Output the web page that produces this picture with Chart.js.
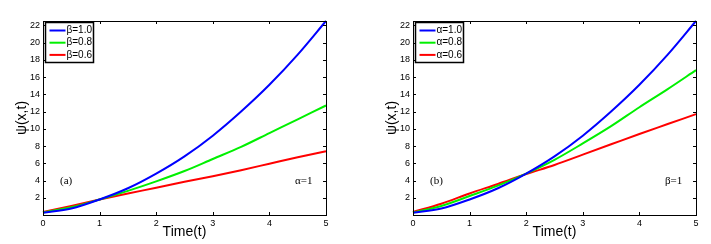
<!DOCTYPE html>
<html>
<head>
<meta charset="utf-8">
<script src="https://cdn.jsdelivr.net/npm/chart.js@4.4.1/dist/chart.umd.min.js"></script>
<style>
body{margin:0;background:#fff;width:711px;height:244px;overflow:hidden;position:relative}
.box{position:absolute;top:0;height:244px}
#boxA{left:0;width:355px}
#boxB{left:370px;width:341px}
</style>
</head>
<body>
<div class=box id=boxA><canvas id=chartA></canvas></div>
<div class=box id=boxB><canvas id=chartB></canvas></div>
<script>
"use strict"

// values, t = 0 .. 5 step 0.5
var times = [0, 0.5, 1, 1.5, 2, 2.5, 3, 3.5, 4, 4.5, 5]
// panel (a), alpha = 1
var beta10 = [0.25, 0.75, 1.8, 3.1, 4.8, 6.8, 9.2, 12.0, 15.1, 18.6, 22.5]
var beta08 = [0.3, 0.9, 1.8, 2.8, 3.9, 5.1, 6.5, 7.9, 9.5, 11.1, 12.7]
var beta06 = [0.35, 1.05, 1.8, 2.5, 3.15, 3.85, 4.5, 5.2, 5.95, 6.7, 7.4]
// panel (b), beta = 1
var alpha10 = [0.25, 0.75, 1.8, 3.1, 4.8, 6.8, 9.2, 12.0, 15.1, 18.6, 22.5]
var alpha08 = [0.3, 1.05, 2.2, 3.4, 4.8, 6.4, 8.3, 10.3, 12.5, 14.6, 16.8]
var alpha06 = [0.35, 1.3, 2.5, 3.6, 4.75, 5.8, 7.0, 8.2, 9.4, 10.55, 11.7]

var xTicks = [0, 1, 2, 3, 4, 5]
var yTicks = [2, 4, 6, 8, 10, 12, 14, 16, 18, 20, 22]
var colors = ['#0000ff', '#00f000', '#ff0000']

function points(values){
	return values.map(function(v, i){ return {x: times[i], y: v} })
}

// matlab style box: frame, inward ticks on all sides, boxed legend, notes
var matlabFrame = {
	id: 'matlabFrame',
	afterDraw: function(chart, args, opts){
		var ctx = chart.ctx, a = chart.chartArea,
		xs = chart.scales.x, ys = chart.scales.y
		ctx.save()
		ctx.strokeStyle = '#000'
		ctx.lineWidth = 1
		ctx.strokeRect(Math.round(a.left)+0.5, Math.round(a.top)+0.5, Math.round(a.right-a.left), Math.round(a.bottom-a.top))
		ctx.beginPath()
		xTicks.forEach(function(v){
			var px = Math.round(xs.getPixelForValue(v))+0.5
			ctx.moveTo(px, a.bottom); ctx.lineTo(px, a.bottom-3)
			ctx.moveTo(px, a.top); ctx.lineTo(px, a.top+3)
		})
		yTicks.forEach(function(v){
			var py = Math.round(ys.getPixelForValue(v))+0.5
			ctx.moveTo(a.left, py); ctx.lineTo(a.left+3, py)
			ctx.moveTo(a.right, py); ctx.lineTo(a.right-3, py)
		})
		ctx.stroke()

		// legend
		var lx = Math.round(a.left)+2.5, ly = Math.round(a.top)+1.5
		ctx.fillStyle = '#fff'
		ctx.fillRect(lx, ly, 48, 40)
		ctx.lineWidth = 1.5
		ctx.strokeRect(lx, ly, 48, 40)
		ctx.font = '10px "Liberation Sans", Arial, sans-serif'
		ctx.textBaseline = 'middle'
		chart.data.datasets.forEach(function(ds, i){
			var y = a.top + 9.5 + i*12.2
			ctx.strokeStyle = ds.borderColor
			ctx.lineWidth = 2
			ctx.beginPath()
			ctx.moveTo(lx+4, y); ctx.lineTo(lx+20, y)
			ctx.stroke()
			ctx.fillStyle = '#000'
			ctx.fillText(ds.label, lx+21, y)
		})

		ctx.font = '11px "Liberation Serif", "Times New Roman", serif'
		ctx.fillStyle = '#000'
		ctx.textBaseline = 'middle'
		ctx.fillText(opts.tag, a.left+17, 181)
		ctx.fillText(opts.note, a.right-31, 181)
		ctx.restore()
	}
}

function makeChart(id, labels, series, tag, note, padRight){
	return new Chart(document.getElementById(id), {
		type: 'line',
		data: {
			datasets: series.map(function(s, i){
				return {
					label: labels[i],
					data: points(s),
					borderColor: colors[i],
					borderWidth: 2,
					pointRadius: 0,
					cubicInterpolationMode: 'monotone',
					clip: false
				}
			})
		},
		options: {
			responsive: true,
			maintainAspectRatio: false,
			animation: false,
			layout: {padding: {top: 21, right: padRight, bottom: 0, left: 0}},
			plugins: {
				legend: {display: false},
				tooltip: {enabled: false},
				matlabFrame: {tag: tag, note: note}
			},
			scales: {
				x: {
					type: 'linear', min: 0, max: 5,
					grid: {display: false, drawTicks: false, tickLength: 0}, border: {display: false},
					afterBuildTicks: function(s){ s.ticks = xTicks.map(function(v){ return {value: v} }) },
					afterFit: function(s){ s.height = 29 },
					ticks: {color: '#000', padding: 3, maxRotation: 0, font: {size: 9, family: '"Liberation Sans", Arial, sans-serif'}},
					title: {display: true, text: 'Time(t)', color: '#000', padding: {top: 0, bottom: 3},
						font: {size: 14, family: '"Liberation Sans", Arial, sans-serif'}}
				},
				y: {
					type: 'linear', min: 0, max: 22.5,
					grid: {display: false, drawTicks: false, tickLength: 0}, border: {display: false},
					afterBuildTicks: function(s){ s.ticks = yTicks.map(function(v){ return {value: v} }) },
					afterFit: function(s){ s.width = 43 },
					ticks: {color: '#000', padding: 3, font: {size: 9, family: '"Liberation Sans", Arial, sans-serif'}},
					title: {display: true, text: 'ψ(x,t)', color: '#000', padding: {top: 14, bottom: 0},
						font: {size: 14, family: '"Liberation Sans", Arial, sans-serif'}}
				}
			}
		},
		plugins: [matlabFrame]
	})
}

makeChart('chartA', ['β=1.0', 'β=0.8', 'β=0.6'], [beta10, beta08, beta06], '(a)', 'α=1', 29)
makeChart('chartB', ['α=1.0', 'α=0.8', 'α=0.6'], [alpha10, alpha08, alpha06], '(b)', 'β=1', 15)
</script>
</body>
</html>
